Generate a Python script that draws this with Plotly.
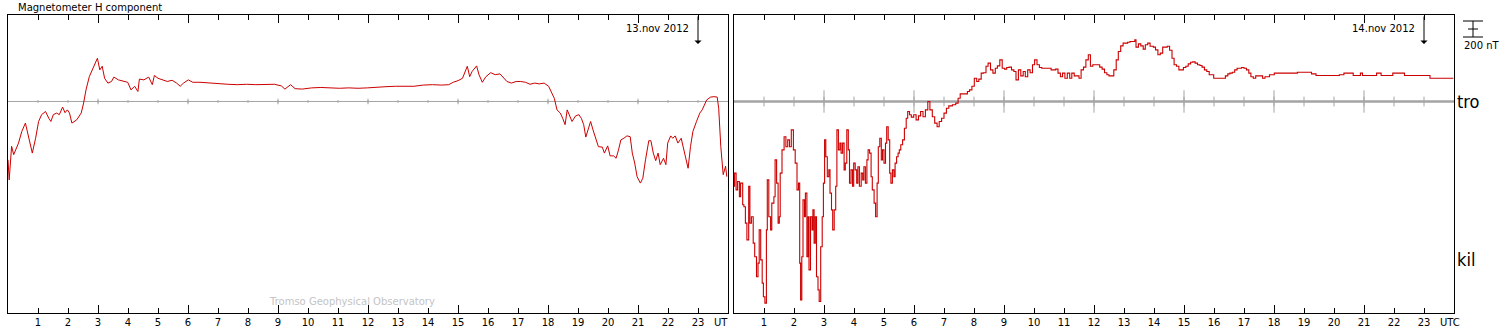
import plotly.graph_objects as go

# ---------------- data (H component, nT relative to the tro baseline) ----------------
hour_ticks = list(range(1, 24))
hour_labels = [str(h) for h in hour_ticks]
major_hours = [3, 6, 9, 12, 15, 18, 21]

tro_13nov_hours = [
    0.00, 0.04, 0.12, 0.19, 0.35, 0.46, 0.58, 0.66, 0.74, 0.81, 0.92, 1.02, 1.12, 1.25, 1.36, 1.43,
    1.51, 1.62, 1.71, 1.82, 1.90, 1.98, 2.05, 2.13, 2.29, 2.44, 2.52, 2.60, 2.71, 2.83, 2.94, 2.98,
    3.06, 3.14, 3.22, 3.33, 3.45, 3.53, 3.68, 3.84, 3.99, 4.10, 4.22, 4.33, 4.38, 4.53, 4.69, 4.81,
    4.88, 5.00, 5.16, 5.31, 5.47, 5.62, 5.74, 5.85, 6.01, 6.16, 6.40, 6.71, 7.02, 7.33, 7.64, 7.95,
    8.26, 8.57, 8.88, 9.11, 9.23, 9.42, 9.57, 9.81, 10.12, 10.43, 10.74, 11.05, 11.36, 11.67, 11.98,
    12.29, 12.60, 12.91, 13.22, 13.53, 13.84, 14.15, 14.46, 14.69, 14.84, 15.00, 15.15, 15.23, 15.31,
    15.39, 15.47, 15.62, 15.70, 15.81, 15.93, 16.09, 16.24, 16.40, 16.50, 16.63, 16.78, 16.94, 17.09,
    17.25, 17.40, 17.56, 17.71, 17.87, 18.02, 18.10, 18.21, 18.30, 18.41, 18.49, 18.57, 18.64, 18.72,
    18.80, 18.92, 19.03, 19.11, 19.19, 19.26, 19.34, 19.42, 19.50, 19.57, 19.68, 19.81, 19.88, 19.99,
    20.07, 20.19, 20.27, 20.35, 20.43, 20.53, 20.63, 20.74, 20.81, 20.89, 20.97, 21.08, 21.16, 21.25,
    21.36, 21.43, 21.51, 21.59, 21.67, 21.74, 21.85, 21.93, 21.99, 22.09, 22.16, 22.24, 22.33, 22.44,
    22.52, 22.60, 22.67, 22.75, 22.83, 22.95, 23.06, 23.14, 23.22, 23.29, 23.42, 23.53, 23.64, 23.69,
    23.76, 23.84, 23.92, 23.96,
]
tro_13nov_nT = [
    -730, -980, -560, -665, -520, -375, -270, -395, -520, -645, -460, -250, -165, -125, -210, -250,
    -165, -145, -165, -70, -140, -105, -145, -270, -230, -145, -20, 145, 310, 415, 500, 540,
    395, 440, 290, 230, 250, 305, 270, 250, 240, 145, 190, 125, 280, 270, 305, 210,
    325, 290, 270, 250, 265, 230, 190, 230, 270, 240, 240, 230, 220, 215, 210, 215,
    210, 210, 215, 195, 155, 210, 160, 155, 170, 175, 170, 165, 170, 165, 170,
    180, 185, 190, 190, 190, 205, 210, 205, 210, 240, 260, 290, 355, 440,
    310, 375, 445, 335, 240, 310, 360, 335, 345, 305, 250, 230, 250, 250,
    240, 215, 230, 220, 230, 190, 125, 40, -105, -145, -210, -290, -105, -190,
    -250, -180, -165, -210, -290, -445, -335, -250, -355, -440, -565, -570, -645, -555,
    -680, -680, -710, -605, -480, -460, -430, -440, -645, -770, -940, -1020, -960, -730,
    -490, -490, -645, -740, -645, -790, -710, -790, -520, -430, -460, -430, -520, -460,
    -585, -750, -835, -565, -375, -250, -145, -105, -30, 20, 55, 60, 55, -85,
    -565, -915, -810, -940,
]

tro_14nov_hours = [
    0.00, 0.02, 0.07, 0.12, 0.18, 0.22, 0.29, 0.33, 0.38, 0.43, 0.49, 0.53, 0.58, 0.64, 0.69, 0.75,
    0.80, 0.84, 0.89, 0.94, 0.98, 1.03, 1.08, 1.11, 1.16, 1.22, 1.26, 1.33, 1.37, 1.42, 1.47, 1.51,
    1.54, 1.60, 1.67, 1.73, 1.79, 1.85, 1.91, 1.98, 2.04, 2.10, 2.15, 2.19, 2.22, 2.26, 2.30, 2.35,
    2.38, 2.43, 2.47, 2.50, 2.55, 2.60, 2.63, 2.67, 2.71, 2.75, 2.80, 2.84, 2.89, 2.94, 2.98, 3.02,
    3.06, 3.11, 3.16, 3.20, 3.25, 3.29, 3.34, 3.39, 3.43, 3.48, 3.53, 3.57, 3.62, 3.67, 3.71, 3.76,
    3.81, 3.85, 3.90, 3.95, 3.99, 4.04, 4.09, 4.13, 4.18, 4.24, 4.29, 4.33, 4.38, 4.43, 4.47, 4.52,
    4.57, 4.61, 4.67, 4.72, 4.77, 4.81, 4.86, 4.91, 4.95, 5.00, 5.05, 5.09, 5.14, 5.19, 5.23, 5.28,
    5.33, 5.37, 5.42, 5.47, 5.51, 5.56, 5.62, 5.68, 5.74, 5.79, 5.85, 5.91, 5.99, 6.07, 6.15, 6.22,
    6.30, 6.38, 6.46, 6.53, 6.61, 6.69, 6.77, 6.84, 6.92, 7.00, 7.08, 7.16, 7.28, 7.39, 7.47, 7.54,
    7.70, 7.78, 7.85, 7.93, 8.01, 8.09, 8.16, 8.24, 8.32, 8.40, 8.47, 8.55, 8.63, 8.71, 8.78, 8.86,
    8.94, 9.02, 9.09, 9.17, 9.25, 9.33, 9.40, 9.48, 9.56, 9.64, 9.71, 9.79, 9.87, 9.95, 10.02, 10.10,
    10.18, 10.26, 10.41, 10.57, 10.72, 10.80, 10.88, 10.95, 11.03, 11.11, 11.19, 11.26, 11.34, 11.42,
    11.50, 11.57, 11.65, 11.73, 11.81, 11.88, 11.96, 12.12, 12.19, 12.27, 12.35, 12.43, 12.50, 12.58,
    12.66, 12.74, 12.81, 12.89, 12.97, 13.12, 13.20, 13.36, 13.40, 13.48, 13.56, 13.64, 13.71, 13.79,
    13.87, 13.98, 14.05, 14.13, 14.21, 14.29, 14.44, 14.52, 14.60, 14.67, 14.75, 14.83, 14.91, 14.98,
    15.06, 15.14, 15.22, 15.29, 15.37, 15.45, 15.53, 15.60, 15.68, 15.76, 15.84, 15.99, 16.30, 16.38,
    16.46, 16.53, 16.61, 16.69, 16.77, 16.92, 17.00, 17.08, 17.16, 17.23, 17.31, 17.39, 17.54, 17.62,
    17.70, 17.85, 18.01, 18.78, 19.25, 19.40, 20.18, 20.33, 20.49, 20.64, 20.88, 20.95, 21.34, 21.42,
    21.57, 21.88, 21.96, 22.27, 22.35, 23.12, 23.20, 23.98,
]
tro_14nov_nT = [
    -1060, -895, -1105, -1000, -1190, -1020, -1290, -1315, -1520, -1730, -1060, -1520, -1440, -1770, -1940, -2190,
    -2020, -1605, -1980, -2270, -2440, -2520, -1605, -980, -1440, -1605, -1270, -1190, -730, -1020, -1520, -1440,
    -895, -605, -440, -565, -480, -565, -355, -605, -770, -1105, -1020, -2020, -2480, -1940, -1230, -1440,
    -1145, -1940, -1440, -2105, -1440, -1605, -1355, -1770, -1440, -2190, -2355, -2500, -1815, -1440, -1020, -480,
    -690, -940, -855, -1145, -1355, -1605, -1355, -1060, -355, -605, -520, -645, -520, -855, -770, -355,
    -605, -1020, -855, -1060, -770, -855, -1020, -815, -1060, -895, -980, -815, -1020, -730, -605, -645,
    -940, -1105, -1270, -1440, -1020, -565, -460, -730, -605, -770, -520, -315, -480, -895, -1020, -855,
    -940, -770, -690, -645, -605, -540, -480, -335, -210, -125, -165, -195, -165, -230, -180, -125,
    -190, -105, 0, -105, -190, -270, -315, -250, -210, -145, -85, -55, -40, -20, 40, 95,
    95, 125, 145, 190, 290, 250, 280, 355, 360, 440, 480, 395, 355, 415, 445, 520,
    415, 405, 425, 430, 395, 375, 270, 395, 320, 375, 310, 395, 360, 460, 520, 460,
    425, 415, 415, 395, 405, 355, 310, 355, 290, 355, 290, 355, 320, 320,
    290, 395, 430, 520, 585, 440, 460, 460, 430, 405, 360, 335, 320, 320,
    395, 520, 625, 695, 730, 740, 750, 770, 680, 720, 695, 655, 710, 730,
    690, 680, 645, 585, 605, 680, 690, 640, 540, 460, 440, 395, 395, 425,
    440, 470, 490, 495, 480, 460, 450, 430, 395, 375, 335, 290, 290, 320,
    345, 355, 365, 395, 415, 425, 415, 395, 355, 310, 290, 320, 320, 290,
    310, 335, 355, 365, 345, 325, 335, 355, 355, 325, 355, 325, 325, 355,
    325, 325, 355, 355, 325, 325, 290, 290,
]

baseline_nT = 0
kil_label_nT = -1970
scale_nT = 200
scale_top_nT = 1006
y_range = [-2644, 1081]

# ---------------- layout helpers ----------------
W, H = 1501, 336
def px(x):
    return x / W
def py(y):
    return 1 - y / H

RED = "#cc0000"
GRAY = "#a4a4a4"
FONT = "DejaVu Sans"
NARROW = "Liberation Sans Narrow, DejaVu Sans Condensed, Roboto Condensed, sans-serif"

fig = go.Figure()

panels = [
    ("x", "y", tro_13nov_hours, tro_13nov_nT, "linear", 1.0, 1.0, 2, 4, "13.nov 2012"),
    ("x2", "y2", tro_14nov_hours, tro_14nov_nT, "hv", 1.1, 2.5, 7, 16, "14.nov 2012"),
]

for xa, ya, hrs, vals, shape, lw, blw, tk_small, tk_big, date in panels:
    # baseline
    fig.add_trace(go.Scatter(x=[0, 24], y=[baseline_nT, baseline_nT], mode="lines",
                             line=dict(color=GRAY, width=blw), xaxis=xa, yaxis=ya,
                             hoverinfo="skip", showlegend=False))
    fig.add_trace(go.Scatter(x=hour_ticks, y=[baseline_nT] * len(hour_ticks), mode="markers",
                             marker=dict(symbol="line-ns", size=tk_small,
                                         line=dict(color=GRAY, width=1)),
                             xaxis=xa, yaxis=ya, hoverinfo="skip", showlegend=False))
    fig.add_trace(go.Scatter(x=major_hours, y=[baseline_nT] * len(major_hours), mode="markers",
                             marker=dict(symbol="line-ns", size=tk_big,
                                         line=dict(color=GRAY, width=1)),
                             xaxis=xa, yaxis=ya, hoverinfo="skip", showlegend=False))
    # data
    fig.add_trace(go.Scatter(x=hrs, y=vals, mode="lines", line=dict(color=RED, width=lw, shape=shape),
                             xaxis=xa, yaxis=ya, showlegend=False))
    # date + arrow at 23 UT
    fig.add_annotation(x=23, y=(101.5 - 44) * 12.5, xref=xa, yref=ya, text="",
                       showarrow=True, ax=0, ay=-29, arrowhead=1, arrowsize=1.2,
                       arrowwidth=1, arrowcolor="black")
    fig.add_annotation(x=22.75, y=(101.5 - 29) * 12.5, xref=xa, yref=ya, text=date,
                       showarrow=False, xanchor="right", yanchor="middle",
                       font=dict(family=FONT, size=10, color="black"))

axis_common = dict(range=[0, 24], tickmode="array", tickvals=hour_ticks, ticktext=hour_labels,
                   ticks="inside", ticklen=5, tickwidth=1, tickcolor="black",
                   showline=True, linecolor="black", linewidth=1, mirror="ticks",
                   showgrid=False, zeroline=False,
                   tickfont=dict(family=FONT, size=10, color="black"),
                   minor=dict(tickmode="array", tickvals=major_hours, ticks="inside",
                              ticklen=8, tickwidth=1, tickcolor="black"))
yaxis_common = dict(range=y_range, showline=True, linecolor="black", linewidth=1, mirror=True,
                    showticklabels=False, ticks="", showgrid=False, zeroline=False,
                    domain=[py(313), py(15)])

fig.update_layout(
    width=W, height=H,
    margin=dict(l=0, r=0, t=0, b=0),
    paper_bgcolor="white", plot_bgcolor="white",
    xaxis=dict(domain=[px(8), px(728)], anchor="y", **axis_common),
    xaxis2=dict(domain=[px(734), px(1454)], anchor="y2", **axis_common),
    yaxis=dict(anchor="x", **yaxis_common),
    yaxis2=dict(anchor="x2", **yaxis_common),
    showlegend=False,
)

# texts
fig.add_annotation(x=px(16), y=py(7), xref="paper", yref="paper", text="Magnetometer H component",
                   showarrow=False, xanchor="left", yanchor="middle",
                   font=dict(family=FONT, size=10, color="black"))
fig.add_annotation(x=px(712), y=py(322), xref="paper", yref="paper", text="UT",
                   showarrow=False, xanchor="left", yanchor="middle",
                   font=dict(family=FONT, size=10, color="black"))
fig.add_annotation(x=px(1438), y=py(322), xref="paper", yref="paper", text="UTC",
                   showarrow=False, xanchor="left", yanchor="middle",
                   font=dict(family=FONT, size=10, color="black"))
fig.add_annotation(x=px(267), y=py(301), xref="paper", yref="paper",
                   text="Tromso Geophysical Observatory",
                   showarrow=False, xanchor="left", yanchor="middle",
                   font=dict(family=FONT, size=10, color="#c4c4c4"))
fig.add_annotation(x=px(1455), y=baseline_nT, xref="paper", yref="y2", text="tro",
                   showarrow=False, xanchor="left", yanchor="middle",
                   font=dict(family=NARROW, size=18, color="black"))
fig.add_annotation(x=px(1455), y=kil_label_nT, xref="paper", yref="y2", text="kil",
                   showarrow=False, xanchor="left", yanchor="middle",
                   font=dict(family=NARROW, size=18, color="black"))

# 200 nT scale bar
sx0, sx1, sxm = px(1463), px(1483), px(1473)
for yv in (scale_top_nT, scale_top_nT - scale_nT):
    fig.add_shape(type="line", xref="paper", yref="y2", x0=sx0, x1=sx1, y0=yv, y1=yv,
                  line=dict(color="black", width=1))
fig.add_shape(type="line", xref="paper", yref="y2", x0=sxm, x1=sxm,
              y0=scale_top_nT, y1=scale_top_nT - scale_nT, line=dict(color="black", width=1))
fig.add_shape(type="line", xref="paper", yref="y2", x0=px(1468), x1=px(1478),
              y0=scale_top_nT - scale_nT / 2, y1=scale_top_nT - scale_nT / 2,
              line=dict(color="black", width=1))
fig.add_annotation(x=px(1462), y=py(46), xref="paper", yref="paper", text="200 nT",
                   showarrow=False, xanchor="left", yanchor="middle",
                   font=dict(family=FONT, size=10, color="black"))

fig.write_html("out.html", config={"displayModeBar": False},
               post_script="document.body.style.margin='0';document.body.style.padding='0';")
